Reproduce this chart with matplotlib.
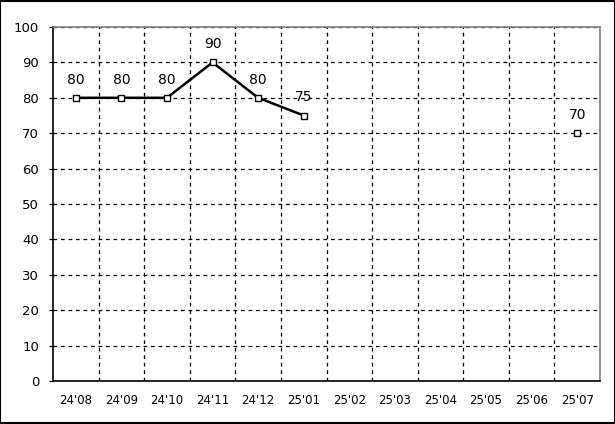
import numpy as np
import matplotlib
matplotlib.use('Agg')
import matplotlib.pyplot as plt

months = ["24'08", "24'09", "24'10", "24'11", "24'12", "25'01",
          "25'02", "25'03", "25'04", "25'05", "25'06", "25'07"]
values = [80, 80, 80, 90, 80, 75, np.nan, np.nan, np.nan, np.nan, np.nan, 70]

fig = plt.figure(figsize=(6.15, 4.24), dpi=100)
ax = fig.add_axes([53 / 615, 1 - 381 / 424, 547 / 615, 354 / 424])

x = np.arange(len(months))
ax.plot(x, values, color='black', linewidth=1.8, marker='s', markersize=5,
        markerfacecolor='white', markeredgecolor='black', markeredgewidth=1)

# data labels above the points
for xi, v in zip(x, values):
    if not np.isnan(v):
        ax.annotate(str(v), (xi, v), xytext=(0, 8), textcoords='offset points',
                    ha='center', va='bottom', fontsize=10)

ax.set_xlim(-0.5, len(months) - 0.5)
ax.set_ylim(0, 100)
ax.set_yticks(range(0, 101, 10))
ax.set_xticks(x)
ax.set_xticklabels(months)
ax.set_xticks(np.arange(0.5, len(months) - 0.5), minor=True)

ax.grid(False)
ax.grid(which='minor', axis='x', color='black', linestyle=(0, (3, 3)), linewidth=0.9)
ax.grid(which='major', axis='y', color='black', linestyle=(0, (3, 3)), linewidth=0.9)

ax.tick_params(axis='x', which='both', length=0, pad=9, labelsize=8.5)
ax.tick_params(axis='y', length=3, width=0.9, pad=7, labelsize=9.5)

for side in ['left', 'bottom']:
    ax.spines[side].set_color('black')
    ax.spines[side].set_linewidth(1.2)
for side in ['top', 'right']:
    ax.spines[side].set_color('#808080')
    ax.spines[side].set_linewidth(1.2)

fig.patches.append(plt.Rectangle((0.0008, 0.0012), 0.9984, 0.9976, transform=fig.transFigure,
                                 fill=False, edgecolor='black', linewidth=1.5))

fig.savefig('out.png', dpi=100)
